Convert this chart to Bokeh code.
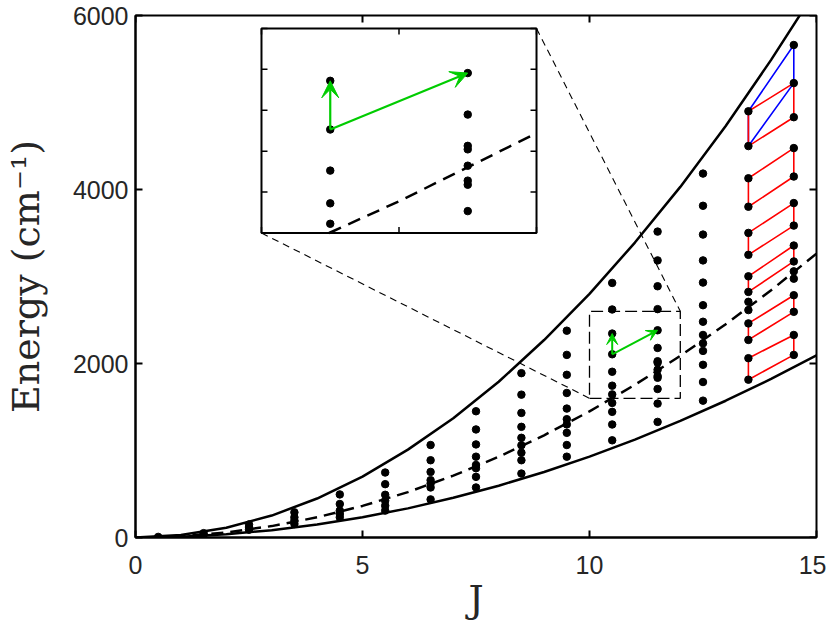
from bokeh.plotting import figure
from bokeh.models import Range1d, FixedTicker, Arrow, VeeHead
from bokeh.embed import file_html
from bokeh.resources import INLINE

# ---------------- data ----------------
curve_J = [0, 1, 2, 3, 4, 5, 6, 7, 8, 9, 10, 11, 12, 13, 14, 15]
upper_E = [0, 28, 112, 252, 448, 700, 1010, 1370, 1790, 2270, 2800, 3390, 4030, 4730, 5490, 6300]
middle_E = [0, 15, 58, 131, 232, 363, 522, 711, 928, 1175, 1450, 1755, 2088, 2451, 2842, 3263]
lower_E = [0, 9, 37, 84, 149, 233, 335, 456, 595, 753, 930, 1125, 1340, 1572, 1823, 2093]

level_J = [0.5, 1.5, 2.5, 3.5, 4.5, 5.5, 6.5, 7.5, 8.5, 9.5, 10.5, 11.5, 12.5, 13.5, 14.5]
lev_0_5 = [7]
lev_1_5 = [50, 30]
lev_2_5 = [150, 120, 90]
lev_3_5 = [289, 232, 194, 156]
lev_4_5 = [495, 385, 309, 270, 232]
lev_5_5 = [747, 613, 491, 423, 366, 309]
lev_6_5 = [1063, 888, 754, 659, 621, 575, 438]
lev_7_5 = [1451, 1242, 1070, 929, 834, 796, 697, 575]
lev_8_5 = [1889, 1642, 1432, 1272, 1146, 1060, 975, 888, 735]
lev_9_5 = [2377, 2099, 1870, 1661, 1482, 1360, 1300, 1203, 1063, 929]
lev_10_5 = [2926, 2621, 2344, 2106, 1905, 1745, 1645, 1547, 1444, 1299, 1117]
lev_11_5 = [3516, 3185, 2888, 2625, 2382, 2179, 2026, 2009, 1929, 1856, 1836, 1707, 1539, 1329]
lev_12_5 = [4183, 3813, 3482, 3185, 2930, 2670, 2480, 2328, 2232, 2145, 1985, 1787, 1573]
lev_13_5 = [4899, 4499, 4129, 3802, 3501, 3249, 3002, 2823, 2709, 2614, 2461, 2271, 2061, 1814]
lev_14_5 = [5661, 5223, 4831, 4476, 4149, 3844, 3585, 3356, 3173, 3059, 2975, 2785, 2594, 2328, 2099]
levels = [lev_0_5, lev_1_5, lev_2_5, lev_3_5, lev_4_5, lev_5_5, lev_6_5, lev_7_5,
          lev_8_5, lev_9_5, lev_10_5, lev_11_5, lev_12_5, lev_13_5, lev_14_5]

quad_left_J = 13.5
quad_right_J = 14.5
red_left_hi = [4899, 4129, 3501, 3002, 2461, 2061]
red_left_lo = [4499, 3802, 3249, 2823, 2271, 1814]
red_right_hi = [5223, 4476, 3844, 3356, 2785, 2328]
red_right_lo = [4831, 4149, 3585, 3173, 2594, 2099]
blue_left_hi = [4899]
blue_left_lo = [4499]
blue_right_hi = [5661]
blue_right_lo = [5223]

arrow_start = (10.5, 2106)
arrow_ends = [(10.5, 2344), (11.5, 2382)]

zoom_J = [10, 12]
zoom_E = [1600, 2600]
inset_J = [2.775, 8.833]
inset_E = [3500, 5851]
inset_xticks = [10, 11, 12]
inset_yticks = [1600, 1800, 2000, 2200, 2400, 2600]

x_ticks = [0, 5, 10, 15]
y_ticks = [0, 2000, 4000, 6000]
x_lim = [0, 15]
y_lim = [0, 6000]

# ---------------- figure ----------------
FW, FH = 681, 522
p = figure(frame_width=FW, frame_height=FH, x_range=Range1d(*x_lim), y_range=Range1d(*y_lim),
           output_backend="svg", toolbar_location=None,
           min_border_left=126, min_border_right=10, min_border_top=15, min_border_bottom=10)
p.xgrid.visible = False
p.ygrid.visible = False
p.outline_line_color = "black"
p.outline_line_width = 2
p.background_fill_color = "white"

TICK_FONT = "Liberation Sans"
for ax, ticks in ((p.xaxis[0], x_ticks), (p.yaxis[0], y_ticks)):
    ax.ticker = FixedTicker(ticks=ticks)
    ax.minor_tick_line_color = None
    ax.major_tick_in = 7
    ax.major_tick_out = 0
    ax.major_tick_line_width = 2
    ax.axis_line_width = 2
    ax.major_label_text_font = TICK_FONT
    ax.major_label_text_font_size = "25px"
    ax.major_label_text_color = "#262626"
    ax.axis_label_text_font = "DejaVu Serif"
    ax.axis_label_text_font_size = "38px"
    ax.axis_label_text_font_style = "normal"
    ax.axis_label_text_color = "#262626"
p.xaxis[0].axis_label = "J"
p.yaxis[0].axis_label = "Energy (cm\u207b\u00b9)"
p.xaxis[0].major_label_standoff = 18
p.yaxis[0].major_label_standoff = 7
p.xaxis[0].axis_label_standoff = 0
p.yaxis[0].axis_label_standoff = 22

px_per_J = FW / (x_lim[1] - x_lim[0])
px_per_E = FH / (y_lim[1] - y_lim[0])

# mirrored ticks on right and top edges (inside)
mt = 7
mx0 = [x_lim[1]] * len(y_ticks) + list(x_ticks)
my0 = list(y_ticks) + [y_lim[1]] * len(x_ticks)
mx1 = [x_lim[1] - mt / px_per_J] * len(y_ticks) + list(x_ticks)
my1 = list(y_ticks) + [y_lim[1] - mt / px_per_E] * len(x_ticks)
p.segment(mx0, my0, mx1, my1, line_color="black", line_width=2)

# curves
p.line(curve_J, upper_E, line_color="black", line_width=2.5)
p.line(curve_J, lower_E, line_color="black", line_width=2.5)
p.line(curve_J, middle_E, line_color="black", line_width=2.5, line_dash="12 7")

# parallelograms
def quads(lhi, llo, rhi, rlo):
    xs, ys = [], []
    for a, b, c, d in zip(lhi, llo, rhi, rlo):
        xs.append([quad_left_J, quad_right_J, quad_right_J, quad_left_J, quad_left_J])
        ys.append([a, c, d, b, a])
    return xs, ys

bx, by = quads(blue_left_hi, blue_left_lo, blue_right_hi, blue_right_lo)
p.multi_line(bx, by, line_color="#0000ff", line_width=1.6)
rx, ry = quads(red_left_hi, red_left_lo, red_right_hi, red_right_lo)
p.multi_line(rx, ry, line_color="#ff0000", line_width=1.6)

# dots
dot_x, dot_y = [], []
for j, lev in zip(level_J, levels):
    for e in lev:
        dot_x.append(j)
        dot_y.append(e)
p.scatter(dot_x, dot_y, size=7.5, color="black")

GREEN = "#00cc00"
for (xe, ye) in arrow_ends:
    p.add_layout(Arrow(end=VeeHead(size=11, fill_color=GREEN, line_color=GREEN, line_width=1),
                       x_start=arrow_start[0], y_start=arrow_start[1], x_end=xe, y_end=ye,
                       line_color=GREEN, line_width=2))

# zoom box
p.multi_line([[zoom_J[0], zoom_J[1], zoom_J[1], zoom_J[0], zoom_J[0]]],
             [[zoom_E[0], zoom_E[0], zoom_E[1], zoom_E[1], zoom_E[0]]],
             line_color="black", line_width=1.3, line_dash="12 5")
# connectors
p.segment(x0=[inset_J[1], inset_J[0]], y0=[inset_E[1], inset_E[0]],
          x1=[zoom_J[1], zoom_J[0]], y1=[zoom_E[1], zoom_E[0]],
          line_color="black", line_width=1.1, line_dash="7 5")

# ---------------- inset ----------------
def tx(j):
    return inset_J[0] + (j - zoom_J[0]) / (zoom_J[1] - zoom_J[0]) * (inset_J[1] - inset_J[0])

def ty(e):
    return inset_E[0] + (e - zoom_E[0]) / (zoom_E[1] - zoom_E[0]) * (inset_E[1] - inset_E[0])

p.quad(left=[inset_J[0]], right=[inset_J[1]], bottom=[inset_E[0]], top=[inset_E[1]],
       fill_color="white", line_color="black", line_width=2)

tl = 6
tdx = tl / px_per_J
tdy = tl / px_per_E
sx0, sy0, sx1, sy1 = [], [], [], []
for t in inset_xticks:
    X = tx(t)
    sx0 += [X, X]; sx1 += [X, X]
    sy0 += [inset_E[0], inset_E[1]]; sy1 += [inset_E[0] + tdy, inset_E[1] - tdy]
for t in inset_yticks:
    Y = ty(t)
    sy0 += [Y, Y]; sy1 += [Y, Y]
    sx0 += [inset_J[0], inset_J[1]]; sx1 += [inset_J[0] + tdx, inset_J[1] - tdx]
p.segment(sx0, sy0, sx1, sy1, line_color="black", line_width=1.5)

def clip_seg(x0, y0, x1, y1, xmin, xmax, ymin, ymax):
    dx, dy = x1 - x0, y1 - y0
    t0, t1 = 0.0, 1.0
    for pp, qq in ((-dx, x0 - xmin), (dx, xmax - x0), (-dy, y0 - ymin), (dy, ymax - y0)):
        if pp == 0:
            if qq < 0:
                return None
        else:
            r = qq / pp
            if pp < 0:
                t0 = max(t0, r)
            else:
                t1 = min(t1, r)
    if t0 > t1:
        return None
    return (x0 + t0 * dx, y0 + t0 * dy, x0 + t1 * dx, y0 + t1 * dy)

cx, cy = [], []
for i in range(len(curve_J) - 1):
    s = clip_seg(curve_J[i], middle_E[i], curve_J[i + 1], middle_E[i + 1],
                 zoom_J[0], zoom_J[1], zoom_E[0], zoom_E[1])
    if s is None:
        continue
    if not cx or (abs(cx[-1] - s[0]) > 1e-9 or abs(cy[-1] - s[1]) > 1e-9):
        cx.append(s[0]); cy.append(s[1])
    cx.append(s[2]); cy.append(s[3])
p.line([tx(v) for v in cx], [ty(v) for v in cy], line_color="black", line_width=2.5, line_dash="13 8")

ix, iy = [], []
for j, lev in zip(level_J, levels):
    if zoom_J[0] <= j <= zoom_J[1]:
        for e in lev:
            if zoom_E[0] <= e <= zoom_E[1]:
                ix.append(tx(j)); iy.append(ty(e))
p.scatter(ix, iy, size=7.5, color="black")

for (xe, ye) in arrow_ends:
    p.add_layout(Arrow(end=VeeHead(size=17, fill_color=GREEN, line_color=GREEN, line_width=1),
                       x_start=tx(arrow_start[0]), y_start=ty(arrow_start[1]),
                       x_end=tx(xe), y_end=ty(ye), line_color=GREEN, line_width=2.2))

open("out.html", "w").write(file_html(p, INLINE))
